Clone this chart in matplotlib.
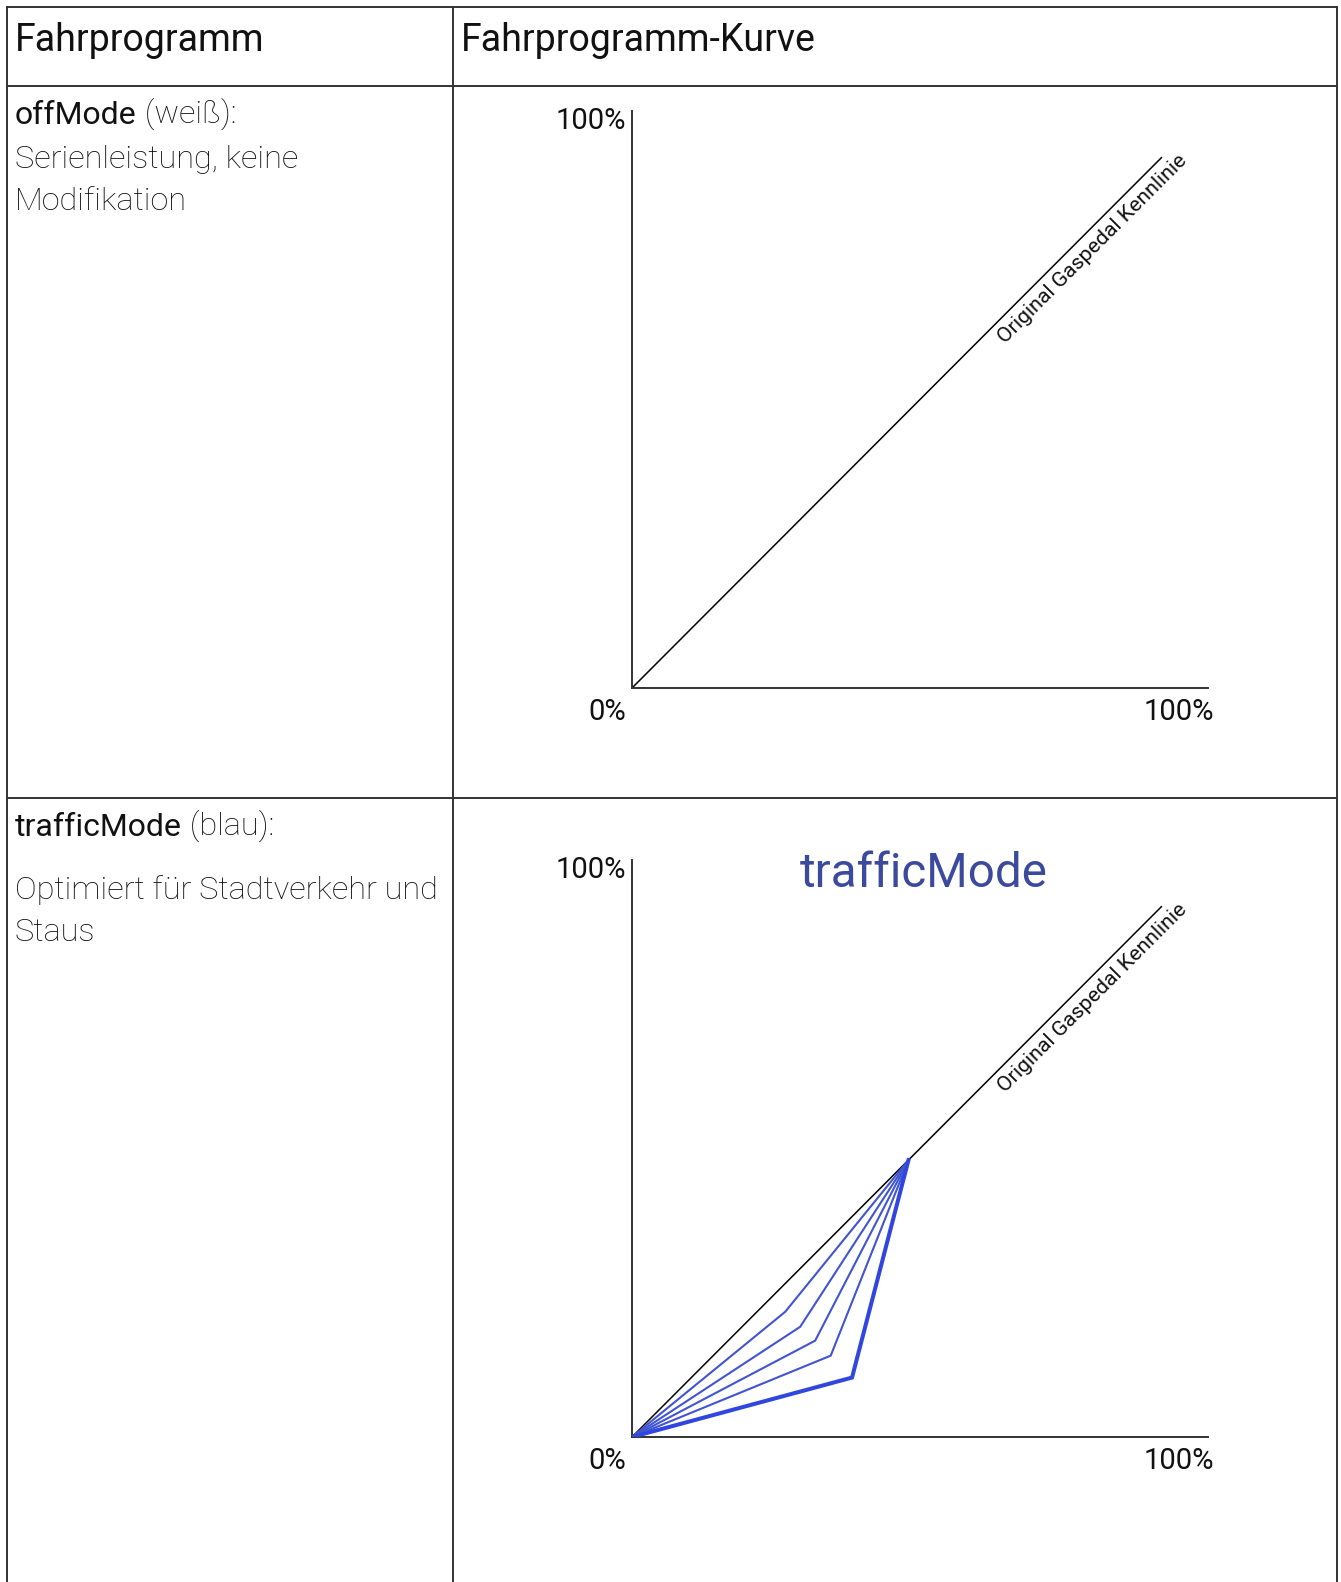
import matplotlib.pyplot as plt

W, H = 1341, 1582

plt.rcParams['font.family'] = ['Roboto', 'DejaVu Sans']

# table text
header_labels = ["Fahrprogramm", "Fahrprogramm-Kurve"]
mode_names = ["offMode", "trafficMode"]
mode_color_notes = ["(weiß):", "(blau):"]
mode_descriptions = [["Serienleistung, keine", "Modifikation"],
                     ["Optimiert für Stadtverkehr und", "Staus"]]

# curve data (percent pedal -> percent output)
original_x = [0, 92]
original_y = [0, 92]
join_point = 48
kink_x = [26.6, 29.2, 31.8, 34.5, 38.2]
kink_y = [21.7, 19.1, 16.7, 14.1, 10.3]

LINE_COLOR = "#333333"
TEXT_COLOR = "#111111"
BLUE = "#3046df"
BLUE_THIN = "#4154d2"
TITLE_BLUE = "#3b4a9c"


def px_axes(fig, left, top, width, height):
    """Add axes placed in pixel coordinates (top-left origin)."""
    return fig.add_axes([left / W, 1 - (top + height) / H, width / W, height / H])


def draw_table(bg):
    """Draw grid lines and the text of the left column."""
    lw = 1.4
    bg.plot([7, 7], [7, H], color=LINE_COLOR, lw=lw)
    bg.plot([1337, 1337], [7, H], color=LINE_COLOR, lw=lw)
    bg.plot([453, 453], [7, H], color=LINE_COLOR, lw=lw)
    for y in [7, 86, 798]:
        bg.plot([7, 1337], [y, y], color=LINE_COLOR, lw=lw)

    bg.text(15, 51, header_labels[0], fontsize=27, color=TEXT_COLOR, va="baseline")
    bg.text(461, 51, header_labels[1], fontsize=27, color=TEXT_COLOR, va="baseline")

    row_baselines = [[124, 167.5, 210], [836.5, 899, 941]]
    for name, note, desc, ys in zip(mode_names, mode_color_notes,
                                    mode_descriptions, row_baselines):
        t = bg.text(15, ys[0], name, fontsize=23, color=TEXT_COLOR,
                    va="baseline")
        bg.annotate(" " + note, xy=(1, 0), xycoords=t, fontsize=23.4,
                    color="#0a0a0a", fontweight="light", va="bottom", ha="left")
        for line, y in zip(desc, ys[1:]):
            bg.text(15, y, line, fontsize=23.4, color="#0a0a0a",
                    fontweight="light", va="baseline")


def draw_chart(ax, title=None, curves=False):
    ax.set_xlim(0, 100)
    ax.set_ylim(0, 100)
    for side in ["top", "right"]:
        ax.spines[side].set_visible(False)
    for side in ["left", "bottom"]:
        ax.spines[side].set_color(LINE_COLOR)
        ax.spines[side].set_linewidth(1.4)
    ax.set_xticks([])
    ax.set_yticks([])
    ax.patch.set_alpha(0)

    ax.plot(original_x, original_y, color="black", lw=1.1, solid_capstyle="butt")
    ax.annotate("Original Gaspedal Kennlinie", xy=(78, 78),
                xytext=(3, -3), textcoords="offset points",
                rotation=45, rotation_mode="anchor", ha="center", va="top",
                fontsize=15.3, color=TEXT_COLOR)

    ax.text(-1.1, 96.9, "100%", ha="right", va="baseline", fontsize=21,
            color=TEXT_COLOR, clip_on=False)
    ax.text(-1.1, -5.5, "0%", ha="right", va="baseline", fontsize=21,
            color=TEXT_COLOR, clip_on=False)
    ax.text(101.1, -5.5, "100%", ha="right", va="baseline", fontsize=21,
            color=TEXT_COLOR, clip_on=False)

    if title:
        ax.text(50.6, 95.4, title, ha="center", va="baseline", fontsize=34.3,
                color=TITLE_BLUE, clip_on=False)

    if curves:
        for i, (kx, ky) in enumerate(zip(kink_x, kink_y)):
            last = i == len(kink_x) - 1
            ax.plot([0, kx, join_point], [0, ky, join_point],
                    color=BLUE if last else BLUE_THIN,
                    lw=2.9 if last else 1.5, solid_joinstyle="miter",
                    zorder=3)


fig = plt.figure(figsize=(W / 100, H / 100), dpi=100)
bg = fig.add_axes([0, 0, 1, 1])
bg.set_xlim(0, W)
bg.set_ylim(H, 0)
bg.axis("off")

draw_table(bg)

ax1 = px_axes(fig, 632, 111, 576, 577)
draw_chart(ax1)

ax2 = px_axes(fig, 632, 860, 576, 577)
draw_chart(ax2, title="trafficMode", curves=True)

fig.savefig("out.png", dpi=100)
